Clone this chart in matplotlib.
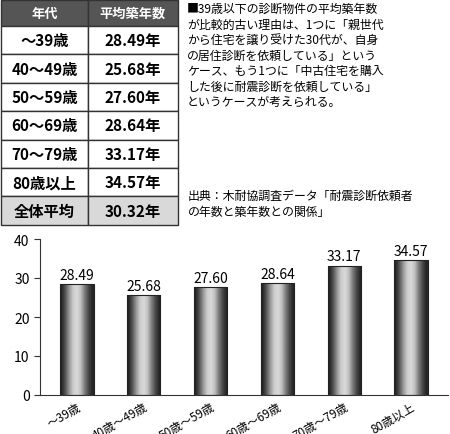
import matplotlib
matplotlib.use("Agg")
import matplotlib.pyplot as plt
import numpy as np
from matplotlib.patches import Rectangle

plt.rcParams['font.family'] = ['Noto Sans CJK JP', 'DejaVu Sans']

table_header = ["年代", "平均築年数"]
table_ages = ["～39歳", "40～49歳", "50～59歳", "60～69歳", "70～79歳", "80歳以上", "全体平均"]
table_years = ["28.49年", "25.68年", "27.60年", "28.64年", "33.17年", "34.57年", "30.32年"]

categories = ["～39歳", "40歳～49歳", "50歳～59歳", "60歳～69歳", "70歳～79歳", "80歳以上"]
values = [28.49, 25.68, 27.60, 28.64, 33.17, 34.57]
yticks = [0, 10, 20, 30, 40]

W, H = 450, 435
fig = plt.figure(figsize=(4.5, 4.35), dpi=100)

# table
tax = fig.add_axes([0, 0, 1, 1])
tax.set_xlim(0, W); tax.set_ylim(H, 0); tax.axis('off')
x0, xm, x1 = 1, 88, 178
y = 1
rh0, rh = 26, 28.4
rows = [table_header] + list(zip(table_ages, table_years))
for i, (a, b) in enumerate(rows):
    h = rh0 if i == 0 else rh
    if i == 0:
        fc = '#555555'; tc = 'white'
    elif i == len(rows) - 1:
        fc = '#d9d9d9'; tc = 'black'
    else:
        fc = 'white'; tc = 'black'
    for (xa, xb, t) in [(x0, xm, a), (xm, x1, b)]:
        tax.add_patch(Rectangle((xa, y), xb - xa, h, fc=fc, ec='#333333', lw=1))
        tax.text((xa + xb) / 2, y + h / 2, t, ha='center', va='center',
                 fontsize=9.5 if i == 0 else 11, fontweight='bold', color=tc)
    y += h

desc = ("■39歳以下の診断物件の平均築年数\nが比較的古い理由は、1つに「親世代\n"
        "から住宅を譲り受けた30代が、自身\nの居住診断を依頼している」という\n"
        "ケース、もう1つに「中古住宅を購入\nした後に耐震診断を依頼している」\nというケースが考えられる。")
tax.text(187, 3, desc, ha='left', va='top', fontsize=8.6, linespacing=1.25)
tax.text(188, 190, "出典：木耐協調査データ「耐震診断依頼者\nの年数と築年数との関係」",
         ha='left', va='top', fontsize=8.6, linespacing=1.25)

# bar chart
ax = fig.add_axes([40 / W, 1 - 396 / H, 408 / W, 156 / H])
ax.patch.set_alpha(0)
x = np.arange(len(categories))
bw = 0.5
bars = ax.bar(x, values, width=bw, color='none', edgecolor='#222222', lw=0.8, zorder=3)
grad = np.array([[0.15, 0.35, 0.6, 0.8, 0.85, 0.75, 0.5, 0.3, 0.15]])
for b in bars:
    im = ax.imshow(grad, cmap='gray', vmin=0, vmax=1, aspect='auto', interpolation='bilinear',
                   extent=[b.get_x(), b.get_x() + b.get_width(), 0, b.get_height()], zorder=2)
    im.set_clip_path(b)
for xi, v in zip(x, values):
    ax.text(xi, v + 0.6, f"{v:.2f}", ha='center', va='bottom', fontsize=10)
ax.set_xlim(-0.55, len(categories) - 0.45)
ax.set_ylim(0, 40)
ax.set_yticks(yticks)
ax.tick_params(axis='y', labelsize=10, length=4, direction='out', color='#333333')
ax.tick_params(axis='x', length=0)
ax.set_xticks(x)
ax.set_xticklabels(categories, rotation=30, ha='right', rotation_mode='anchor', fontsize=8.5)
for s in ['top', 'right']:
    ax.spines[s].set_visible(False)
ax.spines['bottom'].set_color('#333333')
ax.spines['left'].set_color('#333333')

fig.savefig("out.png", dpi=100)
